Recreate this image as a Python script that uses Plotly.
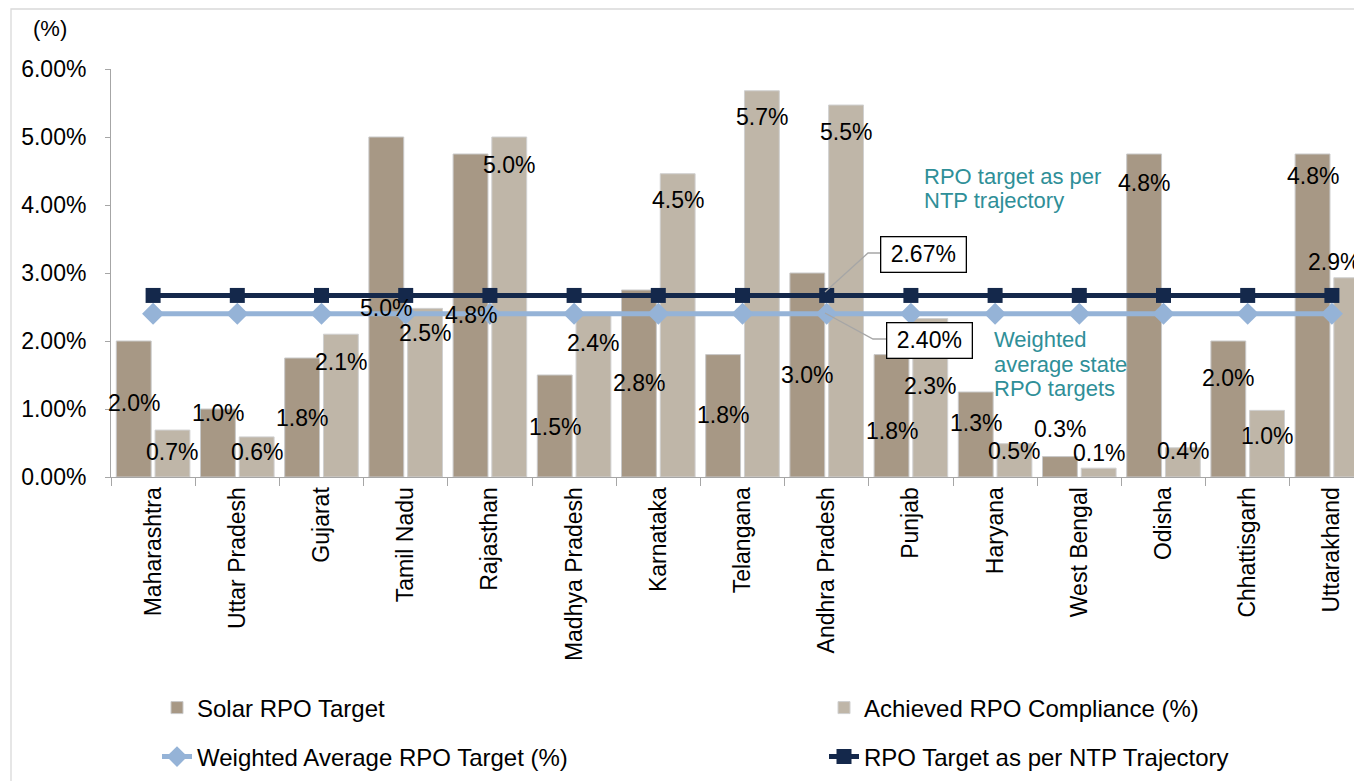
import plotly.graph_objects as go
from decimal import Decimal, ROUND_HALF_UP

# ---------------- data ----------------
states = ["Maharashtra", "Uttar Pradesh", "Gujarat", "Tamil Nadu", "Rajasthan",
          "Madhya Pradesh", "Karnataka", "Telangana", "Andhra Pradesh", "Punjab",
          "Haryana", "West Bengal", "Odisha", "Chhattisgarh", "Uttarakhand"]
solar_rpo_target = [2.00, 1.00, 1.75, 5.00, 4.75, 1.50, 2.75, 1.80, 3.00, 1.80,
                    1.25, 0.30, 4.75, 2.00, 4.75]
achieved_compliance = [0.69, 0.59, 2.10, 2.48, 5.00, 2.38, 4.46, 5.68, 5.47, 2.33,
                       0.49, 0.13, 0.43, 0.98, 2.93]
weighted_avg_target = [2.40] * len(states)
ntp_trajectory_target = [2.67] * len(states)
y_tick_values = [0, 1, 2, 3, 4, 5, 6]
y_tick_labels = ["0.00%", "1.00%", "2.00%", "3.00%", "4.00%", "5.00%", "6.00%"]

# label placement (data units, where the value labels sit)
target_label_pos = [1.09, 0.94, 0.87, 2.49, 2.38, 0.735, 1.38, 0.91, 1.50, 0.68,
                    0.79, 0.71, 4.32, 1.46, 4.43]
achieved_label_pos = [0.37, 0.37, 1.69, 2.12, 4.59, 1.97, 4.07, 5.29, 5.07, 1.34,
                      0.38, 0.35, 0.38, 0.60, 3.16]

# ---------------- style ----------------
FONT = "Arial, 'Liberation Sans', sans-serif"
C_TARGET = "#A79885"
C_ACHIEVED = "#BFB6A8"
C_NTP = "#14284B"
C_WAVG = "#95B3D7"
C_TEAL = "#2F8F98"
C_AXIS = "#A6A6A6"

PAGE_OFF = 8            # default page margin around the figure
W, H = 1362 - PAGE_OFF, 781 - PAGE_OFF
L, R, T, B = 111 - PAGE_OFF, 0, 69 - PAGE_OFF, 304
PW, PH = W - L - R, H - T - B
CAT_W = 84.2
LABEL_SIZE = 23


def px(xs):
    """screen x -> paper x"""
    return (xs - PAGE_OFF - L) / PW


def py(ys):
    """screen y -> paper y"""
    return (H - B - (ys - PAGE_OFF)) / PH


def fmt(v):
    return str(Decimal(str(v)).quantize(Decimal("0.1"), rounding=ROUND_HALF_UP)) + "%"


fig = go.Figure()
fig.add_trace(go.Bar(x=states, y=solar_rpo_target, name="Solar RPO Target",
                     marker=dict(color=C_TARGET, line=dict(color="#C9C9C9", width=1)),
                     legend="legend", showlegend=True))
fig.add_trace(go.Bar(x=states, y=achieved_compliance, name="Achieved RPO Compliance (%)",
                     marker=dict(color=C_ACHIEVED, line=dict(color="#D0D0D0", width=1)),
                     legend="legend2", showlegend=True))
fig.add_trace(go.Scatter(x=states, y=weighted_avg_target, name="Weighted Average RPO Target (%)",
                         mode="lines+markers", line=dict(color=C_WAVG, width=5),
                         marker=dict(symbol="diamond", size=17, color=C_WAVG),
                         legend="legend3", showlegend=True))
fig.add_trace(go.Scatter(x=states, y=ntp_trajectory_target, name="RPO Target as per NTP Trajectory",
                         mode="lines+markers", line=dict(color=C_NTP, width=5),
                         marker=dict(symbol="square", size=15, color=C_NTP),
                         legend="legend4", showlegend=True))

annotations = []
off = CAT_W * (1 - 0.08) / 4
right_limit = 1360  # screen x of last visible pixel column for labels


def label_shift(i, base_shift, text):
    """keep a value label inside the visible figure"""
    center = 111 + (i + 0.5) * CAT_W + base_shift
    half = 0.5 * LABEL_SIZE * (0.556 * (len(text) - 2) + 0.278 + 0.889)
    if center + half > right_limit:
        return base_shift - (center + half - right_limit)
    return base_shift


for i, (s, v, p) in enumerate(zip(states, solar_rpo_target, target_label_pos)):
    t = fmt(v)
    annotations.append(dict(x=s, y=p, xref="x", yref="y", text=t, showarrow=False,
                            xshift=label_shift(i, -off, t),
                            font=dict(size=LABEL_SIZE, color="black", family=FONT)))
for i, (s, v, p) in enumerate(zip(states, achieved_compliance, achieved_label_pos)):
    t = fmt(v)
    annotations.append(dict(x=s, y=p, xref="x", yref="y", text=t, showarrow=False,
                            xshift=label_shift(i, off, t),
                            font=dict(size=LABEL_SIZE, color="black", family=FONT)))

# teal explanatory text
for txt, x0, y0 in [("RPO target as per", 922, 176), ("NTP trajectory", 922, 200),
                    ("Weighted", 992, 339), ("average state", 992, 364),
                    ("RPO targets", 992, 388)]:
    annotations.append(dict(x=px(x0), y=py(y0), xref="paper", yref="paper", text=txt,
                            showarrow=False, xanchor="left", yanchor="middle",
                            font=dict(size=22, color=C_TEAL, family=FONT)))

# boxed value callouts
for txt, cx, cy in [(f"{ntp_trajectory_target[0]:.2f}%", 923, 254),
                    (f"{weighted_avg_target[0]:.2f}%", 929, 340.5)]:
    annotations.append(dict(x=px(cx), y=py(cy), xref="paper", yref="paper", text=txt,
                            showarrow=False, xanchor="center", yanchor="middle",
                            width=80, height=30, borderpad=2, bordercolor="black",
                            borderwidth=1.3, bgcolor="white",
                            font=dict(size=23, color="black", family=FONT)))

annotations.append(dict(x=px(50), y=py(29), xref="paper", yref="paper", text="(%)",
                        showarrow=False, xanchor="center", yanchor="middle",
                        font=dict(size=22, color="black", family=FONT)))

shapes = [
    dict(type="path", xref="paper", yref="paper",
         path=f"M {px(825)},{py(292)} L {px(868)},{py(253)} L {px(880)},{py(253)}",
         line=dict(color=C_AXIS, width=1.3)),
    dict(type="path", xref="paper", yref="paper",
         path=f"M {px(825)},{py(313)} L {px(873)},{py(339)} L {px(887)},{py(339)}",
         line=dict(color=C_AXIS, width=1.3)),
    dict(type="rect", xref="paper", yref="paper", x0=px(11), y0=py(800), x1=px(1400), y1=py(9),
         line=dict(color="#D9D9D9", width=1.3), layer="below"),
]


def leg(x0, y0):
    return dict(orientation="h", x=px(x0), xanchor="left", y=py(y0), yanchor="middle",
                font=dict(size=24, family=FONT), bgcolor="rgba(0,0,0,0)", visible=True)


fig.update_layout(
    width=W, height=H, showlegend=True,
    margin=dict(l=L, r=R, t=T, b=B, pad=0, autoexpand=False),
    paper_bgcolor="white", plot_bgcolor="white",
    font=dict(family=FONT, size=23, color="black"),
    barmode="group", bargap=0.08, bargroupgap=0.1,
    annotations=annotations, shapes=shapes,
    legend=leg(157, 708), legend2=leg(824, 708),
    legend3=leg(157, 757), legend4=leg(824, 757),
)
fig.update_xaxes(type="category", range=[-0.5, -0.5 + PW / CAT_W], showline=True,
                 linecolor=C_AXIS, linewidth=1, ticks="outside", ticklen=8, tickcolor=C_AXIS,
                 tickson="boundaries", tickangle=-90, showgrid=False, automargin=False,
                 tickfont=dict(size=23, family=FONT, color="black"))
fig.update_yaxes(range=[0, 6], tickmode="array", tickvals=y_tick_values, ticktext=y_tick_labels,
                 showline=True, linecolor=C_AXIS, linewidth=1, ticks="outside", ticklen=5,
                 tickcolor=C_AXIS, showgrid=False, zeroline=False, ticklabelstandoff=14,
                 automargin=False, tickfont=dict(size=23, family=FONT, color="black"))

fig.write_html("out.html")
